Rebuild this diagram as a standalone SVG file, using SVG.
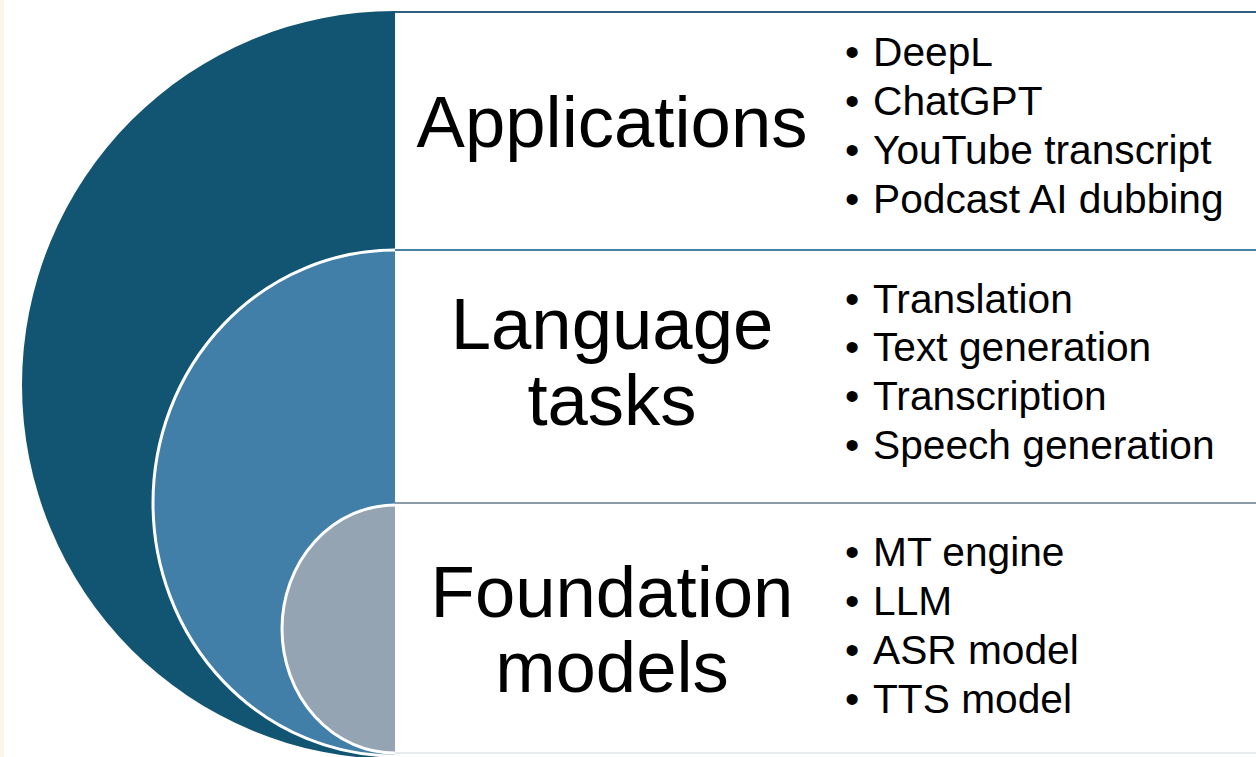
<svg xmlns="http://www.w3.org/2000/svg" width="1256" height="757" viewBox="0 0 1256 757">
  <style>
    .head { font-family: "Liberation Sans", Arial, sans-serif; font-size: 72.5px; fill: #000; text-anchor: middle; }
    .item { font-family: "Liberation Sans", Arial, sans-serif; font-size: 40.7px; fill: #000; }
    .ring { stroke: #ffffff; stroke-width: 3; }
    .box { fill: #ffffff; }
  </style>
  <defs>
    <clipPath id="leftHalf">
      <rect x="0" y="0" width="395" height="757"/>
    </clipPath>
  </defs>

  <!-- page background -->
  <rect x="0" y="0" width="1256" height="757" fill="#ffffff"/>
  <rect x="0" y="0" width="4" height="757" fill="#fcf5ea"/>

  <!-- text panels -->
  <g id="panel-applications">
    <rect class="box" x="395" y="12" width="861" height="238"/>
    <line x1="393" y1="12" x2="1256" y2="12" stroke="#2d5f80" stroke-width="2"/>
    <line x1="394" y1="12" x2="394" y2="250" stroke="#1f5a78" stroke-width="2"/>
    <text class="head" x="612" y="147">Applications</text>
    <text class="item" x="845" y="66">•</text><text class="item" x="873" y="66">DeepL</text>
    <text class="item" x="845" y="115">•</text><text class="item" x="873" y="115">ChatGPT</text>
    <text class="item" x="845" y="164">•</text><text class="item" x="873" y="164">YouTube transcript</text>
    <text class="item" x="845" y="213">•</text><text class="item" x="873" y="213">Podcast AI dubbing</text>
  </g>

  <g id="panel-language-tasks">
    <rect class="box" x="395" y="250" width="861" height="253"/>
    <line x1="393" y1="250" x2="1256" y2="250" stroke="#4a7fa6" stroke-width="2"/>
    <text class="head" x="612" y="349">Language</text>
    <text class="head" x="612" y="425">tasks</text>
    <text class="item" x="845" y="313">•</text><text class="item" x="873" y="313">Translation</text>
    <text class="item" x="845" y="361">•</text><text class="item" x="873" y="361">Text generation</text>
    <text class="item" x="845" y="410">•</text><text class="item" x="873" y="410">Transcription</text>
    <text class="item" x="845" y="459">•</text><text class="item" x="873" y="459">Speech generation</text>
  </g>

  <g id="panel-foundation-models">
    <rect class="box" x="395" y="503" width="861" height="250"/>
    <line x1="393" y1="503" x2="1256" y2="503" stroke="#8d9ba8" stroke-width="2"/>
    <line x1="395" y1="753" x2="1256" y2="753" stroke="#e8ecef" stroke-width="2"/>
    <text class="head" x="612" y="617">Foundation</text>
    <text class="head" x="612" y="692">models</text>
    <text class="item" x="845" y="566">•</text><text class="item" x="873" y="566">MT engine</text>
    <text class="item" x="845" y="615">•</text><text class="item" x="873" y="615">LLM</text>
    <text class="item" x="845" y="664">•</text><text class="item" x="873" y="664">ASR model</text>
    <text class="item" x="845" y="713">•</text><text class="item" x="873" y="713">TTS model</text>
  </g>

  <!-- nested half-discs -->
  <g id="ring-applications" clip-path="url(#leftHalf)">
    <ellipse cx="395" cy="385" rx="373" ry="374" fill="#125573"/>
  </g>
  <g id="ring-language-tasks" clip-path="url(#leftHalf)">
    <ellipse class="ring" cx="395" cy="503" rx="242" ry="253" fill="#417fa8"/>
  </g>
  <g id="ring-foundation-models" clip-path="url(#leftHalf)">
    <ellipse class="ring" cx="395" cy="629" rx="113" ry="124" fill="#95a4b3"/>
  </g>

  <!-- no connectors in this figure -->
  <g id="connectors"></g>
</svg>
